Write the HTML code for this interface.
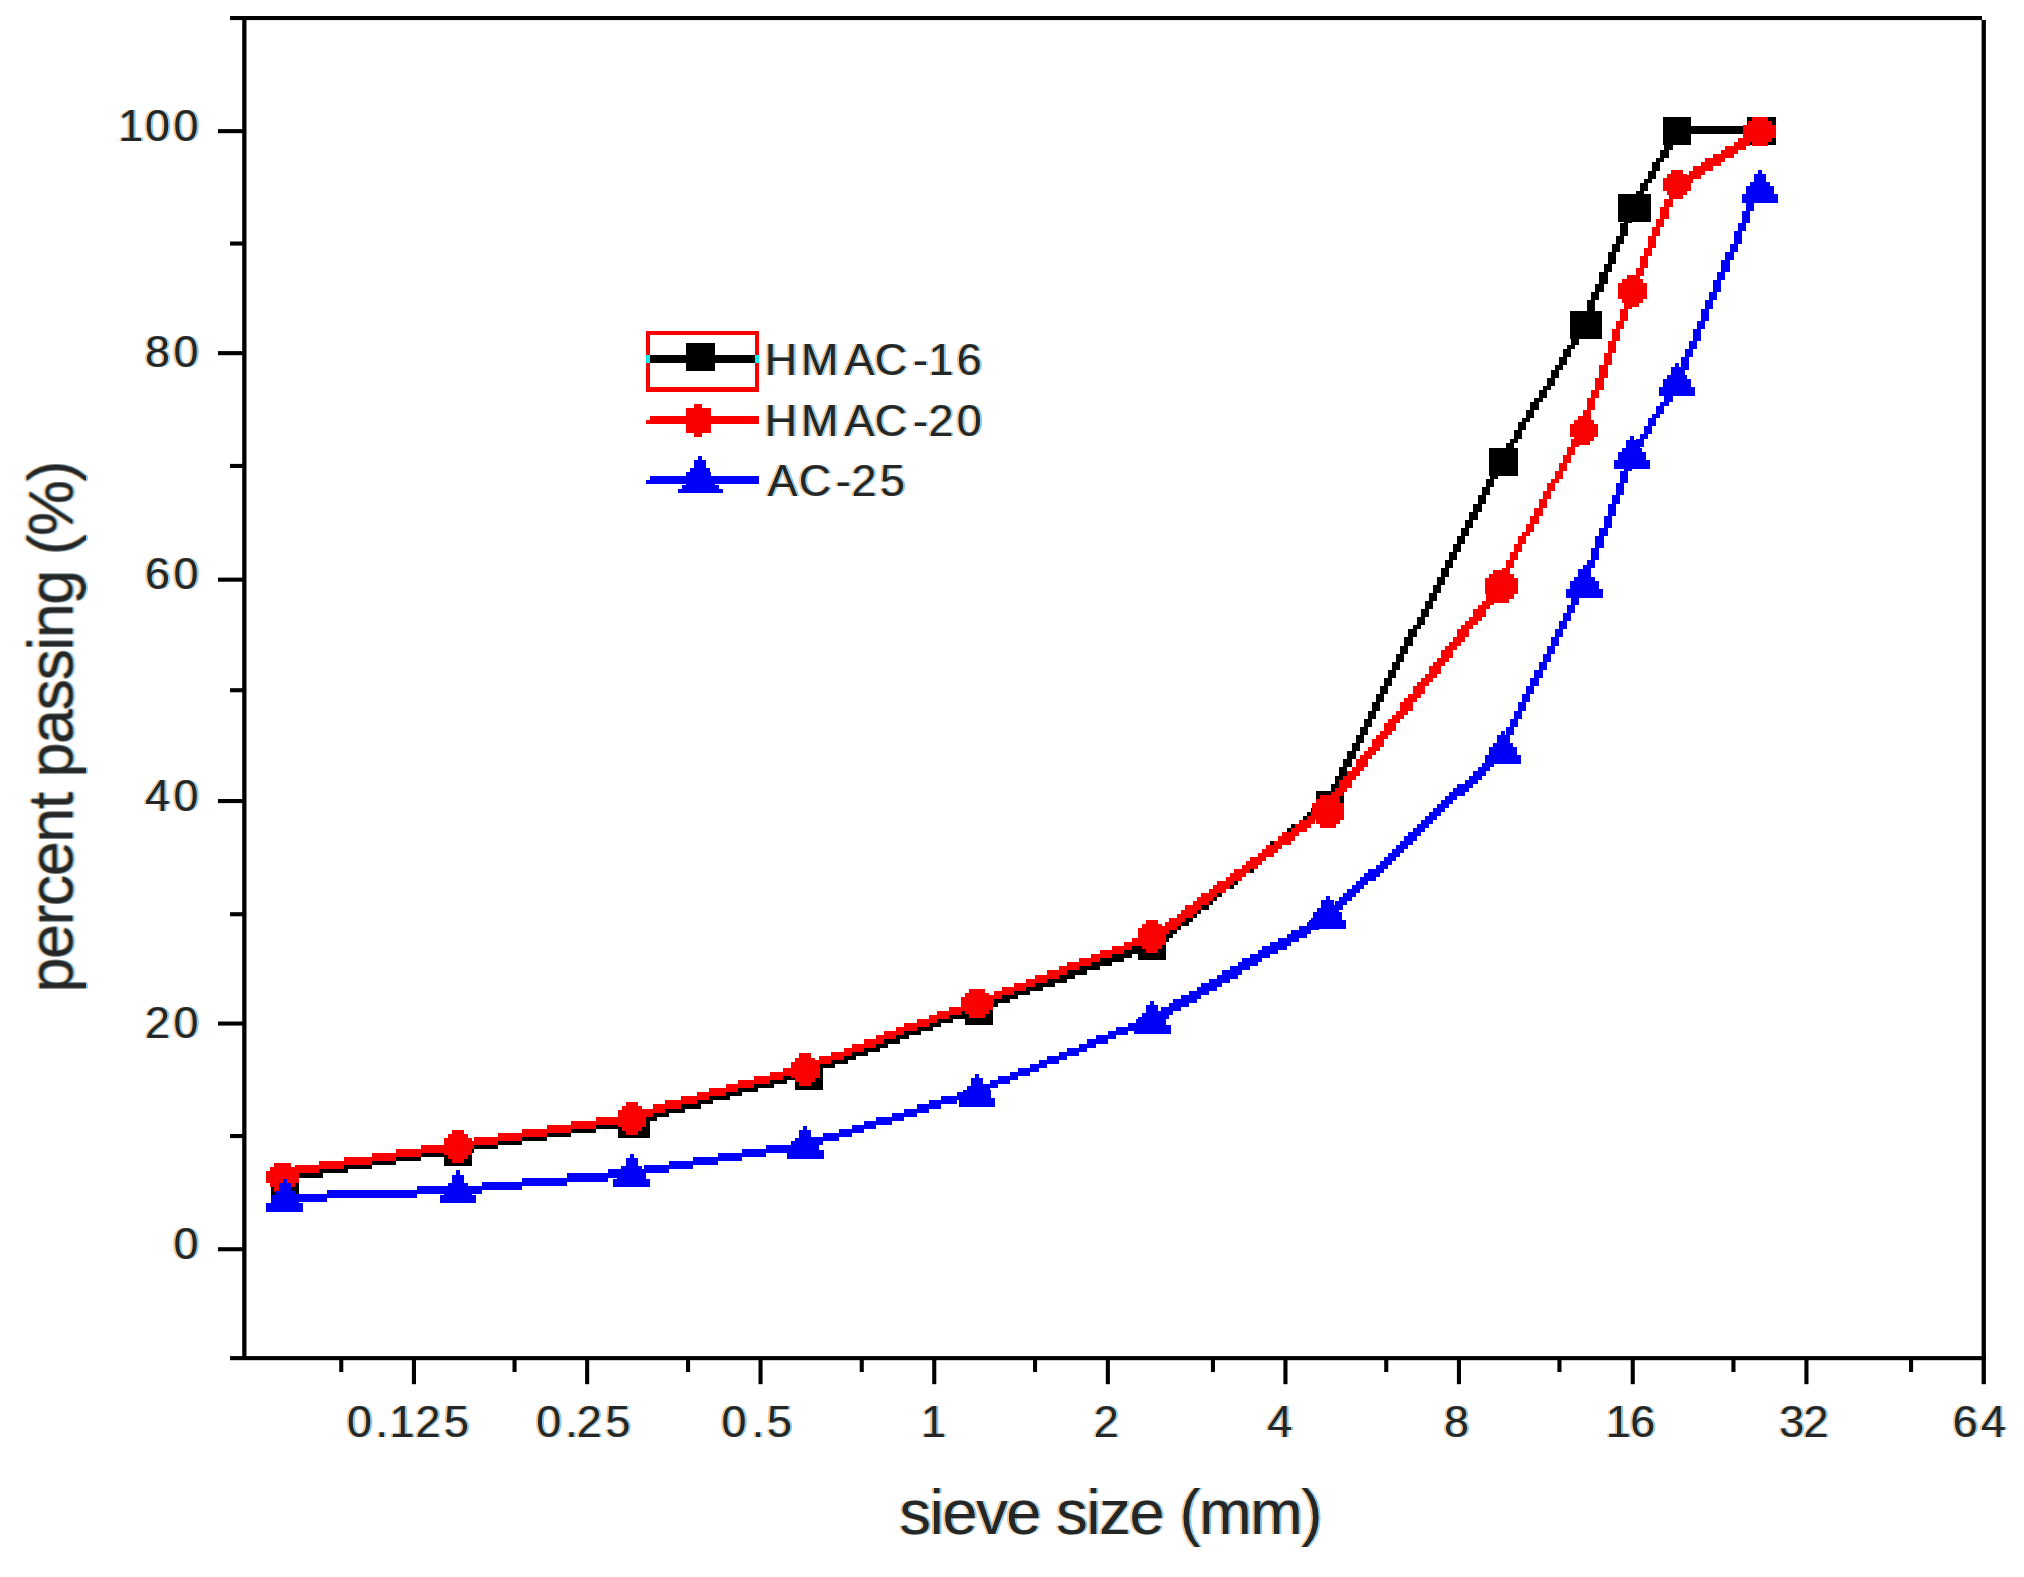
<!DOCTYPE html>
<html lang="en">
<head>
<meta charset="utf-8">
<title>Gradation curves</title>
<style>
html,body{margin:0;padding:0;background:#fff;}
body{width:2024px;height:1577px;overflow:hidden;}
svg{display:block;}
text{font-family:"Liberation Sans",Arial,Helvetica,sans-serif;fill:#262626;}
</style>
</head>
<body>
<svg width="2024" height="1577" viewBox="0 0 2024 1577">
<rect x="0" y="0" width="2024" height="1577" fill="#fff"/>
<g id="axes">
<rect x="230.0" y="16.0" width="1752.0" height="4.1" fill="#000"/>
<rect x="242.2" y="16.0" width="4.3" height="1344.0" fill="#000"/>
<rect x="230.0" y="1356.1" width="1756.0" height="4.1" fill="#000"/>
<rect x="1981.6" y="20.0" width="4.3" height="1364.2" fill="#000"/>
<rect x="218.0" y="129.1" width="25.0" height="4.1" fill="#000"/>
<rect x="218.0" y="351.1" width="25.0" height="4.1" fill="#000"/>
<rect x="218.0" y="577.6" width="25.0" height="4.1" fill="#000"/>
<rect x="218.0" y="799.0" width="25.0" height="4.1" fill="#000"/>
<rect x="218.0" y="1021.5" width="25.0" height="4.1" fill="#000"/>
<rect x="218.0" y="1247.2" width="25.0" height="4.1" fill="#000"/>
<rect x="230.0" y="241.5" width="13.0" height="4.1" fill="#000"/>
<rect x="230.0" y="463.9" width="13.0" height="4.1" fill="#000"/>
<rect x="230.0" y="688.2" width="13.0" height="4.1" fill="#000"/>
<rect x="230.0" y="912.2" width="13.0" height="4.1" fill="#000"/>
<rect x="230.0" y="1134.0" width="13.0" height="4.1" fill="#000"/>
<rect x="411.9" y="1359.0" width="4.1" height="25.2" fill="#000"/>
<rect x="585.1" y="1359.0" width="4.1" height="25.2" fill="#000"/>
<rect x="758.5" y="1359.0" width="4.1" height="25.2" fill="#000"/>
<rect x="932.2" y="1359.0" width="4.1" height="25.2" fill="#000"/>
<rect x="1105.8" y="1359.0" width="4.1" height="25.2" fill="#000"/>
<rect x="1283.4" y="1359.0" width="4.1" height="25.2" fill="#000"/>
<rect x="1456.9" y="1359.0" width="4.1" height="25.2" fill="#000"/>
<rect x="1630.7" y="1359.0" width="4.1" height="25.2" fill="#000"/>
<rect x="1804.4" y="1359.0" width="4.1" height="25.2" fill="#000"/>
<rect x="339.2" y="1359.0" width="4.1" height="13.0" fill="#000"/>
<rect x="512.5" y="1359.0" width="4.1" height="13.0" fill="#000"/>
<rect x="686.0" y="1359.0" width="4.1" height="13.0" fill="#000"/>
<rect x="859.7" y="1359.0" width="4.1" height="13.0" fill="#000"/>
<rect x="1033.0" y="1359.0" width="4.1" height="13.0" fill="#000"/>
<rect x="1210.9" y="1359.0" width="4.1" height="13.0" fill="#000"/>
<rect x="1384.2" y="1359.0" width="4.1" height="13.0" fill="#000"/>
<rect x="1557.4" y="1359.0" width="4.1" height="13.0" fill="#000"/>
<rect x="1731.4" y="1359.0" width="4.1" height="13.0" fill="#000"/>
<rect x="1909.0" y="1359.0" width="4.1" height="13.0" fill="#000"/>
</g>
<g id="s1" shape-rendering="crispEdges">
<path transform="translate(2.24,0.0) scale(4.0642,4.0605)" d="M412 31h21v1h-21zM411 32h22v1h-22zM410 33h2v1h-2zM410 34h2v1h-2zM409 35h2v1h-2zM409 36h2v1h-2zM408 37h2v1h-2zM408 38h2v1h-2zM407 39h2v1h-2zM406 40h2v1h-2zM406 41h2v1h-2zM405 42h2v1h-2zM405 43h2v1h-2zM404 44h2v1h-2zM403 45h2v1h-2zM403 46h2v1h-2zM402 47h2v1h-2zM402 48h2v1h-2zM401 49h2v1h-2zM401 50h2v1h-2zM400 51h2v1h-2zM400 52h2v1h-2zM399 53h2v1h-2zM399 54h2v1h-2zM398 55h2v1h-2zM398 56h2v1h-2zM398 57h2v1h-2zM397 58h2v1h-2zM397 59h2v1h-2zM396 60h2v1h-2zM396 61h2v1h-2zM395 62h2v1h-2zM395 63h2v1h-2zM395 64h2v1h-2zM394 65h2v1h-2zM394 66h2v1h-2zM393 67h2v1h-2zM393 68h2v1h-2zM393 69h2v1h-2zM392 70h2v1h-2zM392 71h2v1h-2zM391 72h2v1h-2zM391 73h2v1h-2zM390 74h2v1h-2zM390 75h2v1h-2zM390 76h2v1h-2zM389 77h2v1h-2zM389 78h2v1h-2zM388 79h2v1h-2zM388 80h2v1h-2zM387 81h2v1h-2zM387 82h2v1h-2zM386 83h2v1h-2zM386 84h2v1h-2zM385 85h2v1h-2zM384 86h2v1h-2zM384 87h2v1h-2zM383 88h2v1h-2zM383 89h2v1h-2zM382 90h2v1h-2zM381 91h2v1h-2zM381 92h2v1h-2zM380 93h2v1h-2zM380 94h2v1h-2zM379 95h2v1h-2zM378 96h2v1h-2zM378 97h2v1h-2zM377 98h2v1h-2zM376 99h2v1h-2zM376 100h2v1h-2zM375 101h2v1h-2zM375 102h2v1h-2zM374 103h2v1h-2zM373 104h2v1h-2zM373 105h2v1h-2zM372 106h2v1h-2zM372 107h2v1h-2zM371 108h2v1h-2zM370 109h2v1h-2zM370 110h2v1h-2zM369 111h2v1h-2zM369 112h2v1h-2zM368 113h2v1h-2zM367 114h2v1h-2zM367 115h2v1h-2zM366 116h2v1h-2zM366 117h2v1h-2zM365 118h2v1h-2zM365 119h2v1h-2zM364 120h2v1h-2zM364 121h2v1h-2zM363 122h2v1h-2zM363 123h2v1h-2zM362 124h2v1h-2zM362 125h2v1h-2zM361 126h2v1h-2zM361 127h2v1h-2zM360 128h2v1h-2zM360 129h2v1h-2zM359 130h2v1h-2zM359 131h2v1h-2zM358 132h2v1h-2zM358 133h2v1h-2zM357 134h2v1h-2zM357 135h2v1h-2zM356 136h2v1h-2zM356 137h2v1h-2zM355 138h2v1h-2zM355 139h2v1h-2zM354 140h2v1h-2zM354 141h2v1h-2zM353 142h2v1h-2zM353 143h2v1h-2zM352 144h2v1h-2zM352 145h2v1h-2zM351 146h2v1h-2zM351 147h2v1h-2zM350 148h2v1h-2zM350 149h2v1h-2zM349 150h2v1h-2zM349 151h2v1h-2zM348 152h2v1h-2zM348 153h2v1h-2zM347 154h2v1h-2zM346 155h2v1h-2zM346 156h2v1h-2zM345 157h2v1h-2zM345 158h2v1h-2zM344 159h2v1h-2zM344 160h2v1h-2zM343 161h2v1h-2zM343 162h2v1h-2zM342 163h2v1h-2zM342 164h2v1h-2zM341 165h2v1h-2zM341 166h2v1h-2zM340 167h2v1h-2zM340 168h2v1h-2zM339 169h2v1h-2zM339 170h2v1h-2zM338 171h2v1h-2zM338 172h2v1h-2zM337 173h2v1h-2zM337 174h2v1h-2zM336 175h2v1h-2zM336 176h2v1h-2zM335 177h2v1h-2zM335 178h2v1h-2zM334 179h2v1h-2zM334 180h2v1h-2zM333 181h2v1h-2zM333 182h2v1h-2zM332 183h2v1h-2zM332 184h2v1h-2zM331 185h2v1h-2zM331 186h2v1h-2zM330 187h2v1h-2zM330 188h2v1h-2zM329 189h2v1h-2zM329 190h2v1h-2zM328 191h2v1h-2zM328 192h2v1h-2zM327 193h2v1h-2zM327 194h2v1h-2zM326 195h2v1h-2zM326 196h2v1h-2zM325 197h2v1h-2zM323 198h4v1h-4zM322 199h4v1h-4zM321 200h4v1h-4zM320 201h3v1h-3zM319 202h3v1h-3zM317 203h4v1h-4zM316 204h4v1h-4zM315 205h4v1h-4zM314 206h3v1h-3zM312 207h4v1h-4zM311 208h4v1h-4zM310 209h4v1h-4zM309 210h3v1h-3zM308 211h3v1h-3zM306 212h4v1h-4zM305 213h4v1h-4zM304 214h4v1h-4zM303 215h3v1h-3zM301 216h4v1h-4zM300 217h4v1h-4zM299 218h4v1h-4zM298 219h3v1h-3zM297 220h3v1h-3zM295 221h4v1h-4zM294 222h4v1h-4zM293 223h4v1h-4zM292 224h3v1h-3zM290 225h4v1h-4zM289 226h4v1h-4zM288 227h4v1h-4zM287 228h3v1h-3zM286 229h3v1h-3zM284 230h4v1h-4zM283 231h4v1h-4zM281 232h5v1h-5zM278 233h6v1h-6zM276 234h5v1h-5zM282 234h1v1h-1zM273 235h5v1h-5zM270 236h6v1h-6zM267 237h6v1h-6zM264 238h6v1h-6zM262 239h5v1h-5zM259 240h5v1h-5zM256 241h6v1h-6zM253 242h6v1h-6zM250 243h6v1h-6zM248 244h5v1h-5zM245 245h5v1h-5zM242 246h6v1h-6zM239 247h6v1h-6zM237 248h5v1h-5zM234 249h5v1h-5zM231 250h6v1h-6zM229 251h5v1h-5zM226 252h5v1h-5zM223 253h6v1h-6zM221 254h5v1h-5zM218 255h5v1h-5zM216 256h5v1h-5zM213 257h5v1h-5zM210 258h6v1h-6zM208 259h5v1h-5zM205 260h5v1h-5zM202 261h6v1h-6zM200 262h5v1h-5zM197 263h5v1h-5zM193 264h7v1h-7zM190 265h7v1h-7zM186 266h7v1h-7zM182 267h8v1h-8zM179 268h7v1h-7zM175 269h7v1h-7zM172 270h7v1h-7zM168 271h7v1h-7zM164 272h8v1h-8zM161 273h7v1h-7zM157 274h7v1h-7zM152 275h9v1h-9zM146 276h11v1h-11zM140 277h12v1h-12zM134 278h12v1h-12zM128 279h12v1h-12zM122 280h12v1h-12zM116 281h12v1h-12zM109 282h13v1h-13zM103 283h13v1h-13zM97 284h12v1h-12zM91 285h12v1h-12zM85 286h12v1h-12zM79 287h12v1h-12zM73 288h12v1h-12zM69 289h10v1h-10zM69 290h4v1h-4z" fill="#000" shape-rendering="crispEdges"/>
<rect x="270.6" y="1166.5" width="28.2" height="28.5" fill="#000"/>
<rect x="444.0" y="1138.0" width="28.2" height="28.3" fill="#000"/>
<rect x="617.6" y="1109.6" width="32.4" height="28.3" fill="#000"/>
<rect x="795.2" y="1061.3" width="28.2" height="28.4" fill="#000"/>
<rect x="964.7" y="996.5" width="28.3" height="28.4" fill="#000"/>
<rect x="1138.1" y="932.0" width="28.3" height="28.4" fill="#000"/>
<rect x="1315.9" y="791.4" width="28.0" height="28.2" fill="#000"/>
<rect x="1489.1" y="447.9" width="28.4" height="28.1" fill="#000"/>
<rect x="1570.0" y="310.8" width="32.2" height="28.2" fill="#000"/>
<rect x="1618.3" y="193.8" width="32.2" height="28.0" fill="#000"/>
<rect x="1662.8" y="117.1" width="28.1" height="28.0" fill="#000"/>
<rect x="1747.4" y="117.1" width="28.4" height="28.0" fill="#000"/>
</g>
<g id="s2" shape-rendering="crispEdges">
<path transform="translate(2.24,0.0) scale(4.0642,4.0605)" d="M432 31h1v1h-1zM430 32h3v1h-3zM429 33h4v1h-4zM427 34h5v1h-5zM426 35h4v1h-4zM424 36h5v1h-5zM423 37h4v1h-4zM421 38h5v1h-5zM419 39h5v1h-5zM418 40h5v1h-5zM416 41h5v1h-5zM415 42h4v1h-4zM413 43h5v1h-5zM412 44h4v1h-4zM411 45h4v1h-4zM411 46h2v1h-2zM410 47h2v1h-2zM410 48h2v1h-2zM409 49h2v1h-2zM409 50h2v1h-2zM408 51h2v1h-2zM408 52h2v1h-2zM408 53h2v1h-2zM407 54h2v1h-2zM407 55h2v1h-2zM406 56h2v1h-2zM406 57h2v1h-2zM405 58h2v1h-2zM405 59h2v1h-2zM405 60h2v1h-2zM404 61h2v1h-2zM404 62h2v1h-2zM403 63h2v1h-2zM403 64h2v1h-2zM403 65h2v1h-2zM402 66h2v1h-2zM402 67h2v1h-2zM401 68h2v1h-2zM401 69h2v1h-2zM400 70h2v1h-2zM400 71h2v1h-2zM400 72h2v1h-2zM399 73h2v1h-2zM399 74h2v1h-2zM399 75h2v1h-2zM398 76h2v1h-2zM398 77h2v1h-2zM398 78h2v1h-2zM397 79h2v1h-2zM397 80h2v1h-2zM396 81h2v1h-2zM396 82h2v1h-2zM396 83h2v1h-2zM395 84h2v1h-2zM395 85h2v1h-2zM395 86h2v1h-2zM394 87h2v1h-2zM394 88h2v1h-2zM394 89h2v1h-2zM393 90h2v1h-2zM393 91h2v1h-2zM393 92h2v1h-2zM392 93h2v1h-2zM392 94h2v1h-2zM392 95h2v1h-2zM391 96h2v1h-2zM391 97h2v1h-2zM390 98h2v1h-2zM390 99h2v1h-2zM390 100h2v1h-2zM389 101h2v1h-2zM389 102h2v1h-2zM389 103h2v1h-2zM388 104h2v1h-2zM388 105h2v1h-2zM387 106h2v1h-2zM387 107h2v1h-2zM386 108h2v1h-2zM386 109h2v1h-2zM385 110h2v1h-2zM385 111h2v1h-2zM384 112h2v1h-2zM384 113h2v1h-2zM383 114h2v1h-2zM383 115h2v1h-2zM382 116h2v1h-2zM382 117h2v1h-2zM381 118h2v1h-2zM380 119h2v1h-2zM380 120h2v1h-2zM379 121h2v1h-2zM379 122h2v1h-2zM378 123h2v1h-2zM378 124h2v1h-2zM377 125h2v1h-2zM377 126h2v1h-2zM376 127h2v1h-2zM376 128h2v1h-2zM375 129h2v1h-2zM375 130h2v1h-2zM374 131h2v1h-2zM373 132h2v1h-2zM373 133h2v1h-2zM372 134h2v1h-2zM372 135h2v1h-2zM371 136h2v1h-2zM371 137h2v1h-2zM370 138h2v1h-2zM370 139h2v1h-2zM369 140h2v1h-2zM369 141h2v1h-2zM368 142h2v1h-2zM368 143h2v1h-2zM367 144h3v1h-3zM366 145h3v1h-3zM365 146h3v1h-3zM365 147h3v1h-3zM364 148h3v1h-3zM363 149h3v1h-3zM362 150h3v1h-3zM362 151h3v1h-3zM361 152h3v1h-3zM360 153h3v1h-3zM359 154h3v1h-3zM358 155h3v1h-3zM358 156h3v1h-3zM357 157h3v1h-3zM356 158h3v1h-3zM355 159h3v1h-3zM354 160h3v1h-3zM354 161h3v1h-3zM353 162h3v1h-3zM352 163h3v1h-3zM351 164h3v1h-3zM351 165h3v1h-3zM350 166h3v1h-3zM349 167h3v1h-3zM348 168h3v1h-3zM347 169h3v1h-3zM347 170h3v1h-3zM346 171h3v1h-3zM345 172h3v1h-3zM344 173h3v1h-3zM344 174h3v1h-3zM343 175h3v1h-3zM342 176h3v1h-3zM341 177h3v1h-3zM340 178h3v1h-3zM340 179h3v1h-3zM339 180h3v1h-3zM338 181h3v1h-3zM337 182h3v1h-3zM337 183h3v1h-3zM336 184h3v1h-3zM335 185h3v1h-3zM334 186h3v1h-3zM333 187h3v1h-3zM333 188h3v1h-3zM332 189h3v1h-3zM331 190h3v1h-3zM330 191h3v1h-3zM329 192h3v1h-3zM329 193h3v1h-3zM328 194h3v1h-3zM327 195h3v1h-3zM326 196h3v1h-3zM326 197h3v1h-3zM325 198h3v1h-3zM323 199h4v1h-4zM322 200h4v1h-4zM321 201h4v1h-4zM319 202h4v1h-4zM318 203h4v1h-4zM317 204h4v1h-4zM315 205h4v1h-4zM314 206h4v1h-4zM313 207h4v1h-4zM311 208h4v1h-4zM310 209h4v1h-4zM309 210h4v1h-4zM307 211h4v1h-4zM306 212h4v1h-4zM305 213h4v1h-4zM303 214h4v1h-4zM302 215h4v1h-4zM301 216h4v1h-4zM299 217h4v1h-4zM298 218h4v1h-4zM297 219h4v1h-4zM295 220h4v1h-4zM294 221h4v1h-4zM293 222h4v1h-4zM291 223h4v1h-4zM290 224h4v1h-4zM289 225h4v1h-4zM287 226h4v1h-4zM286 227h4v1h-4zM285 228h4v1h-4zM283 229h4v1h-4zM281 230h5v1h-5zM278 231h7v1h-7zM276 232h5v1h-5zM282 232h1v1h-1zM273 233h5v1h-5zM270 234h6v1h-6zM268 235h5v1h-5zM265 236h5v1h-5zM262 237h6v1h-6zM260 238h5v1h-5zM257 239h5v1h-5zM254 240h6v1h-6zM252 241h5v1h-5zM249 242h5v1h-5zM246 243h6v1h-6zM244 244h5v1h-5zM241 245h5v1h-5zM238 246h6v1h-6zM236 247h5v1h-5zM233 248h5v1h-5zM230 249h6v1h-6zM228 250h5v1h-5zM225 251h5v1h-5zM222 252h6v1h-6zM220 253h5v1h-5zM217 254h5v1h-5zM215 255h5v1h-5zM212 256h5v1h-5zM209 257h6v1h-6zM207 258h5v1h-5zM204 259h5v1h-5zM201 260h6v1h-6zM199 261h5v1h-5zM196 262h5v1h-5zM192 263h7v1h-7zM189 264h7v1h-7zM185 265h7v1h-7zM181 266h8v1h-8zM178 267h7v1h-7zM174 268h7v1h-7zM171 269h7v1h-7zM167 270h7v1h-7zM163 271h8v1h-8zM160 272h7v1h-7zM156 273h7v1h-7zM152 274h8v1h-8zM146 275h10v1h-10zM140 276h12v1h-12zM134 277h12v1h-12zM128 278h12v1h-12zM122 279h12v1h-12zM116 280h12v1h-12zM109 281h13v1h-13zM103 282h13v1h-13zM97 283h12v1h-12zM91 284h12v1h-12zM84 285h13v1h-13zM78 286h13v1h-13zM72 287h12v1h-12zM68 288h10v1h-10zM68 289h4v1h-4z" fill="#fa0000" shape-rendering="crispEdges"/>
<rect x="274.4" y="1162.6" width="16.3" height="4.5" fill="#fa0000"/>
<rect x="270.4" y="1166.7" width="24.4" height="4.5" fill="#fa0000"/>
<rect x="266.3" y="1170.7" width="32.5" height="4.5" fill="#fa0000"/>
<rect x="266.3" y="1174.8" width="32.5" height="4.5" fill="#fa0000"/>
<rect x="266.3" y="1178.8" width="32.5" height="4.5" fill="#fa0000"/>
<rect x="270.4" y="1182.9" width="24.4" height="4.5" fill="#fa0000"/>
<rect x="274.4" y="1187.0" width="16.3" height="4.5" fill="#fa0000"/>
<rect x="452.0" y="1130.2" width="12.2" height="4.5" fill="#fa0000"/>
<rect x="447.9" y="1134.3" width="20.3" height="4.5" fill="#fa0000"/>
<rect x="443.9" y="1138.3" width="28.4" height="4.5" fill="#fa0000"/>
<rect x="443.9" y="1142.4" width="28.4" height="4.5" fill="#fa0000"/>
<rect x="443.9" y="1146.4" width="28.4" height="4.5" fill="#fa0000"/>
<rect x="443.9" y="1150.5" width="28.4" height="4.5" fill="#fa0000"/>
<rect x="447.9" y="1154.6" width="20.3" height="4.5" fill="#fa0000"/>
<rect x="452.0" y="1158.6" width="12.2" height="4.5" fill="#fa0000"/>
<rect x="625.8" y="1102.2" width="12.2" height="4.5" fill="#fa0000"/>
<rect x="621.7" y="1106.3" width="20.3" height="4.5" fill="#fa0000"/>
<rect x="617.7" y="1110.3" width="28.4" height="4.5" fill="#fa0000"/>
<rect x="617.7" y="1114.4" width="28.4" height="4.5" fill="#fa0000"/>
<rect x="617.7" y="1118.4" width="28.4" height="4.5" fill="#fa0000"/>
<rect x="617.7" y="1122.5" width="28.4" height="4.5" fill="#fa0000"/>
<rect x="621.7" y="1126.6" width="20.3" height="4.5" fill="#fa0000"/>
<rect x="625.8" y="1130.6" width="12.2" height="4.5" fill="#fa0000"/>
<rect x="799.2" y="1053.4" width="12.2" height="4.5" fill="#fa0000"/>
<rect x="795.1" y="1057.5" width="20.3" height="4.5" fill="#fa0000"/>
<rect x="791.1" y="1061.5" width="28.4" height="4.5" fill="#fa0000"/>
<rect x="791.1" y="1065.6" width="28.4" height="4.5" fill="#fa0000"/>
<rect x="791.1" y="1069.6" width="28.4" height="4.5" fill="#fa0000"/>
<rect x="791.1" y="1073.7" width="28.4" height="4.5" fill="#fa0000"/>
<rect x="795.1" y="1077.8" width="20.3" height="4.5" fill="#fa0000"/>
<rect x="799.2" y="1081.8" width="12.2" height="4.5" fill="#fa0000"/>
<rect x="968.7" y="989.0" width="16.3" height="4.5" fill="#fa0000"/>
<rect x="964.7" y="993.1" width="24.4" height="4.5" fill="#fa0000"/>
<rect x="960.6" y="997.1" width="32.5" height="4.5" fill="#fa0000"/>
<rect x="960.6" y="1001.2" width="32.5" height="4.5" fill="#fa0000"/>
<rect x="960.6" y="1005.2" width="32.5" height="4.5" fill="#fa0000"/>
<rect x="964.7" y="1009.3" width="24.4" height="4.5" fill="#fa0000"/>
<rect x="968.7" y="1013.4" width="16.3" height="4.5" fill="#fa0000"/>
<rect x="1146.1" y="920.2" width="12.2" height="4.5" fill="#fa0000"/>
<rect x="1142.0" y="924.3" width="20.3" height="4.5" fill="#fa0000"/>
<rect x="1138.0" y="928.3" width="28.4" height="4.5" fill="#fa0000"/>
<rect x="1138.0" y="932.4" width="28.4" height="4.5" fill="#fa0000"/>
<rect x="1138.0" y="936.4" width="28.4" height="4.5" fill="#fa0000"/>
<rect x="1138.0" y="940.5" width="28.4" height="4.5" fill="#fa0000"/>
<rect x="1142.0" y="944.6" width="20.3" height="4.5" fill="#fa0000"/>
<rect x="1146.1" y="948.6" width="12.2" height="4.5" fill="#fa0000"/>
<rect x="1319.7" y="795.0" width="16.3" height="4.5" fill="#fa0000"/>
<rect x="1315.7" y="799.1" width="24.4" height="4.5" fill="#fa0000"/>
<rect x="1311.6" y="803.1" width="32.5" height="4.5" fill="#fa0000"/>
<rect x="1311.6" y="807.2" width="32.5" height="4.5" fill="#fa0000"/>
<rect x="1311.6" y="811.2" width="32.5" height="4.5" fill="#fa0000"/>
<rect x="1311.6" y="815.3" width="32.5" height="4.5" fill="#fa0000"/>
<rect x="1315.7" y="819.4" width="24.4" height="4.5" fill="#fa0000"/>
<rect x="1319.7" y="823.4" width="16.3" height="4.5" fill="#fa0000"/>
<rect x="1493.1" y="569.6" width="16.3" height="4.5" fill="#fa0000"/>
<rect x="1489.1" y="573.7" width="24.4" height="4.5" fill="#fa0000"/>
<rect x="1485.0" y="577.7" width="32.5" height="4.5" fill="#fa0000"/>
<rect x="1485.0" y="581.8" width="32.5" height="4.5" fill="#fa0000"/>
<rect x="1485.0" y="585.8" width="32.5" height="4.5" fill="#fa0000"/>
<rect x="1485.0" y="589.9" width="32.5" height="4.5" fill="#fa0000"/>
<rect x="1489.1" y="594.0" width="24.4" height="4.5" fill="#fa0000"/>
<rect x="1493.1" y="598.0" width="16.3" height="4.5" fill="#fa0000"/>
<rect x="1578.0" y="415.9" width="12.2" height="4.5" fill="#fa0000"/>
<rect x="1573.9" y="420.0" width="20.3" height="4.5" fill="#fa0000"/>
<rect x="1569.9" y="424.0" width="28.4" height="4.5" fill="#fa0000"/>
<rect x="1569.9" y="428.1" width="28.4" height="4.5" fill="#fa0000"/>
<rect x="1569.9" y="432.1" width="28.4" height="4.5" fill="#fa0000"/>
<rect x="1573.9" y="436.2" width="20.3" height="4.5" fill="#fa0000"/>
<rect x="1578.0" y="440.3" width="12.2" height="4.5" fill="#fa0000"/>
<rect x="1626.5" y="274.5" width="12.2" height="4.5" fill="#fa0000"/>
<rect x="1622.4" y="278.6" width="20.3" height="4.5" fill="#fa0000"/>
<rect x="1618.3" y="282.6" width="28.4" height="4.5" fill="#fa0000"/>
<rect x="1618.3" y="286.7" width="28.4" height="4.5" fill="#fa0000"/>
<rect x="1618.3" y="290.7" width="28.4" height="4.5" fill="#fa0000"/>
<rect x="1618.3" y="294.8" width="28.4" height="4.5" fill="#fa0000"/>
<rect x="1622.4" y="298.9" width="20.3" height="4.5" fill="#fa0000"/>
<rect x="1626.5" y="302.9" width="12.2" height="4.5" fill="#fa0000"/>
<rect x="1670.8" y="169.9" width="12.2" height="4.5" fill="#fa0000"/>
<rect x="1666.7" y="174.0" width="20.3" height="4.5" fill="#fa0000"/>
<rect x="1662.6" y="178.0" width="28.4" height="4.5" fill="#fa0000"/>
<rect x="1662.6" y="182.1" width="28.4" height="4.5" fill="#fa0000"/>
<rect x="1662.6" y="186.1" width="28.4" height="4.5" fill="#fa0000"/>
<rect x="1666.7" y="190.2" width="20.3" height="4.5" fill="#fa0000"/>
<rect x="1670.8" y="194.3" width="12.2" height="4.5" fill="#fa0000"/>
<rect x="1751.6" y="117.1" width="16.3" height="4.5" fill="#fa0000"/>
<rect x="1747.5" y="121.2" width="24.4" height="4.5" fill="#fa0000"/>
<rect x="1743.4" y="125.2" width="32.5" height="4.5" fill="#fa0000"/>
<rect x="1743.4" y="129.3" width="32.5" height="4.5" fill="#fa0000"/>
<rect x="1743.4" y="133.3" width="32.5" height="4.5" fill="#fa0000"/>
<rect x="1747.5" y="137.4" width="24.4" height="4.5" fill="#fa0000"/>
<rect x="1751.6" y="141.5" width="16.3" height="4.5" fill="#fa0000"/>
</g>
<g id="s3" shape-rendering="crispEdges">
<path transform="translate(2.24,0.0) scale(4.0642,4.0605)" d="M431 46h2v1h-2zM431 47h2v1h-2zM430 48h2v1h-2zM430 49h2v1h-2zM429 50h2v1h-2zM429 51h2v1h-2zM428 52h2v1h-2zM428 53h2v1h-2zM428 54h2v1h-2zM427 55h2v1h-2zM427 56h2v1h-2zM426 57h2v1h-2zM426 58h2v1h-2zM426 59h2v1h-2zM425 60h2v1h-2zM425 61h2v1h-2zM424 62h2v1h-2zM424 63h2v1h-2zM423 64h2v1h-2zM423 65h2v1h-2zM423 66h2v1h-2zM422 67h2v1h-2zM422 68h2v1h-2zM421 69h2v1h-2zM421 70h2v1h-2zM421 71h2v1h-2zM420 72h2v1h-2zM420 73h2v1h-2zM419 74h2v1h-2zM419 75h2v1h-2zM418 76h2v1h-2zM418 77h2v1h-2zM418 78h2v1h-2zM417 79h2v1h-2zM417 80h2v1h-2zM416 81h2v1h-2zM416 82h2v1h-2zM416 83h2v1h-2zM415 84h2v1h-2zM415 85h2v1h-2zM414 86h2v1h-2zM414 87h2v1h-2zM413 88h2v1h-2zM413 89h2v1h-2zM413 90h2v1h-2zM412 91h2v1h-2zM412 92h2v1h-2zM411 93h2v1h-2zM411 94h2v1h-2zM410 95h2v1h-2zM410 96h2v1h-2zM409 97h2v1h-2zM409 98h2v1h-2zM408 99h2v1h-2zM407 100h2v1h-2zM407 101h2v1h-2zM406 102h2v1h-2zM405 103h2v1h-2zM405 104h2v1h-2zM404 105h2v1h-2zM404 106h2v1h-2zM403 107h2v1h-2zM402 108h2v1h-2zM402 109h2v1h-2zM401 110h2v1h-2zM401 111h2v1h-2zM400 112h2v1h-2zM400 113h2v1h-2zM399 114h2v1h-2zM399 115h2v1h-2zM398 116h2v1h-2zM398 117h2v1h-2zM398 118h2v1h-2zM397 119h2v1h-2zM397 120h2v1h-2zM397 121h2v1h-2zM396 122h2v1h-2zM396 123h2v1h-2zM395 124h2v1h-2zM395 125h2v1h-2zM395 126h2v1h-2zM394 127h2v1h-2zM394 128h2v1h-2zM394 129h2v1h-2zM393 130h2v1h-2zM393 131h2v1h-2zM392 132h2v1h-2zM392 133h2v1h-2zM392 134h2v1h-2zM391 135h2v1h-2zM391 136h2v1h-2zM391 137h2v1h-2zM390 138h2v1h-2zM390 139h2v1h-2zM389 140h2v1h-2zM389 141h2v1h-2zM389 142h2v1h-2zM388 143h2v1h-2zM388 144h2v1h-2zM387 145h2v1h-2zM387 146h2v1h-2zM386 147h2v1h-2zM386 148h2v1h-2zM385 149h2v1h-2zM385 150h2v1h-2zM384 151h2v1h-2zM384 152h2v1h-2zM383 153h2v1h-2zM383 154h2v1h-2zM382 155h2v1h-2zM382 156h2v1h-2zM381 157h2v1h-2zM381 158h2v1h-2zM380 159h2v1h-2zM380 160h2v1h-2zM379 161h2v1h-2zM379 162h2v1h-2zM378 163h2v1h-2zM378 164h2v1h-2zM377 165h2v1h-2zM377 166h2v1h-2zM376 167h2v1h-2zM376 168h2v1h-2zM375 169h2v1h-2zM375 170h2v1h-2zM374 171h2v1h-2zM374 172h2v1h-2zM373 173h2v1h-2zM373 174h2v1h-2zM372 175h2v1h-2zM372 176h2v1h-2zM371 177h2v1h-2zM371 178h2v1h-2zM370 179h2v1h-2zM370 180h2v1h-2zM369 181h2v1h-2zM369 182h2v1h-2zM368 183h2v1h-2zM368 184h2v1h-2zM367 185h3v1h-3zM366 186h3v1h-3zM365 187h3v1h-3zM364 188h3v1h-3zM363 189h3v1h-3zM362 190h3v1h-3zM361 191h3v1h-3zM360 192h3v1h-3zM358 193h4v1h-4zM357 194h4v1h-4zM356 195h4v1h-4zM355 196h3v1h-3zM354 197h3v1h-3zM353 198h3v1h-3zM352 199h3v1h-3zM351 200h3v1h-3zM350 201h3v1h-3zM349 202h3v1h-3zM348 203h3v1h-3zM347 204h3v1h-3zM346 205h3v1h-3zM345 206h3v1h-3zM344 207h3v1h-3zM343 208h3v1h-3zM342 209h3v1h-3zM341 210h3v1h-3zM340 211h3v1h-3zM339 212h3v1h-3zM338 213h3v1h-3zM336 214h4v1h-4zM335 215h4v1h-4zM334 216h4v1h-4zM333 217h3v1h-3zM332 218h3v1h-3zM331 219h3v1h-3zM330 220h3v1h-3zM329 221h3v1h-3zM328 222h3v1h-3zM327 223h3v1h-3zM326 224h3v1h-3zM324 225h4v1h-4zM322 226h5v1h-5zM321 227h5v1h-5zM319 228h5v1h-5zM317 229h5v1h-5zM316 230h5v1h-5zM314 231h5v1h-5zM312 232h5v1h-5zM310 233h6v1h-6zM309 234h5v1h-5zM307 235h5v1h-5zM305 236h5v1h-5zM304 237h5v1h-5zM302 238h5v1h-5zM300 239h5v1h-5zM299 240h5v1h-5zM297 241h5v1h-5zM295 242h5v1h-5zM294 243h5v1h-5zM292 244h5v1h-5zM290 245h5v1h-5zM288 246h6v1h-6zM287 247h5v1h-5zM285 248h5v1h-5zM283 249h5v1h-5zM281 250h6v1h-6zM279 251h6v1h-6zM277 252h4v1h-4zM282 252h1v1h-1zM274 253h5v1h-5zM272 254h5v1h-5zM269 255h5v1h-5zM267 256h5v1h-5zM265 257h4v1h-4zM262 258h5v1h-5zM260 259h5v1h-5zM257 260h5v1h-5zM255 261h5v1h-5zM253 262h4v1h-4zM250 263h5v1h-5zM248 264h5v1h-5zM245 265h5v1h-5zM243 266h5v1h-5zM241 267h4v1h-4zM238 268h5v1h-5zM235 269h6v1h-6zM231 270h7v1h-7zM228 271h7v1h-7zM225 272h6v1h-6zM222 273h6v1h-6zM219 274h6v1h-6zM215 275h7v1h-7zM212 276h7v1h-7zM209 277h6v1h-6zM206 278h6v1h-6zM202 279h7v1h-7zM199 280h7v1h-7zM194 281h8v1h-8zM188 282h11v1h-11zM182 283h12v1h-12zM176 284h12v1h-12zM170 285h12v1h-12zM164 286h12v1h-12zM158 287h12v1h-12zM149 288h15v1h-15zM139 289h19v1h-19zM128 290h21v1h-21zM118 291h21v1h-21zM102 292h26v1h-26zM80 293h38v1h-38zM69 294h33v1h-33zM69 295h11v1h-11z" fill="#0000fa" shape-rendering="crispEdges"/>
<rect x="282.7" y="1178.6" width="4.1" height="4.5" fill="#0000fa"/>
<rect x="278.6" y="1182.7" width="12.2" height="4.5" fill="#0000fa"/>
<rect x="278.6" y="1186.7" width="12.2" height="4.5" fill="#0000fa"/>
<rect x="274.5" y="1190.8" width="20.3" height="4.5" fill="#0000fa"/>
<rect x="270.5" y="1194.8" width="28.4" height="4.5" fill="#0000fa"/>
<rect x="270.5" y="1198.9" width="28.4" height="4.5" fill="#0000fa"/>
<rect x="266.4" y="1203.0" width="36.6" height="4.5" fill="#0000fa"/>
<rect x="266.4" y="1207.0" width="36.6" height="4.5" fill="#0000fa"/>
<rect x="456.0" y="1170.4" width="4.1" height="4.5" fill="#0000fa"/>
<rect x="451.9" y="1174.5" width="12.2" height="4.5" fill="#0000fa"/>
<rect x="451.9" y="1178.5" width="12.2" height="4.5" fill="#0000fa"/>
<rect x="447.8" y="1182.6" width="20.3" height="4.5" fill="#0000fa"/>
<rect x="443.8" y="1186.6" width="28.4" height="4.5" fill="#0000fa"/>
<rect x="443.8" y="1190.7" width="28.4" height="4.5" fill="#0000fa"/>
<rect x="439.7" y="1194.8" width="36.6" height="4.5" fill="#0000fa"/>
<rect x="439.7" y="1198.8" width="36.6" height="4.5" fill="#0000fa"/>
<rect x="629.6" y="1154.2" width="4.1" height="4.5" fill="#0000fa"/>
<rect x="625.5" y="1158.3" width="12.2" height="4.5" fill="#0000fa"/>
<rect x="625.5" y="1162.3" width="12.2" height="4.5" fill="#0000fa"/>
<rect x="621.4" y="1166.4" width="20.3" height="4.5" fill="#0000fa"/>
<rect x="617.4" y="1170.4" width="28.4" height="4.5" fill="#0000fa"/>
<rect x="617.4" y="1174.5" width="28.4" height="4.5" fill="#0000fa"/>
<rect x="613.3" y="1178.6" width="36.6" height="4.5" fill="#0000fa"/>
<rect x="613.3" y="1182.6" width="36.6" height="4.5" fill="#0000fa"/>
<rect x="803.2" y="1126.0" width="4.1" height="4.5" fill="#0000fa"/>
<rect x="799.1" y="1130.1" width="12.2" height="4.5" fill="#0000fa"/>
<rect x="799.1" y="1134.1" width="12.2" height="4.5" fill="#0000fa"/>
<rect x="795.0" y="1138.2" width="20.3" height="4.5" fill="#0000fa"/>
<rect x="791.0" y="1142.2" width="28.4" height="4.5" fill="#0000fa"/>
<rect x="791.0" y="1146.3" width="28.4" height="4.5" fill="#0000fa"/>
<rect x="786.9" y="1150.4" width="36.6" height="4.5" fill="#0000fa"/>
<rect x="786.9" y="1154.4" width="36.6" height="4.5" fill="#0000fa"/>
<rect x="974.8" y="1073.6" width="4.1" height="4.5" fill="#0000fa"/>
<rect x="970.7" y="1077.7" width="12.2" height="4.5" fill="#0000fa"/>
<rect x="970.7" y="1081.7" width="12.2" height="4.5" fill="#0000fa"/>
<rect x="966.6" y="1085.8" width="20.3" height="4.5" fill="#0000fa"/>
<rect x="962.6" y="1089.8" width="28.4" height="4.5" fill="#0000fa"/>
<rect x="962.6" y="1093.9" width="28.4" height="4.5" fill="#0000fa"/>
<rect x="958.5" y="1098.0" width="36.6" height="4.5" fill="#0000fa"/>
<rect x="958.5" y="1102.0" width="36.6" height="4.5" fill="#0000fa"/>
<rect x="1150.2" y="1001.0" width="4.1" height="4.5" fill="#0000fa"/>
<rect x="1146.1" y="1005.1" width="12.2" height="4.5" fill="#0000fa"/>
<rect x="1146.1" y="1009.1" width="12.2" height="4.5" fill="#0000fa"/>
<rect x="1142.0" y="1013.2" width="20.3" height="4.5" fill="#0000fa"/>
<rect x="1138.0" y="1017.2" width="28.4" height="4.5" fill="#0000fa"/>
<rect x="1138.0" y="1021.3" width="28.4" height="4.5" fill="#0000fa"/>
<rect x="1133.9" y="1025.4" width="36.6" height="4.5" fill="#0000fa"/>
<rect x="1133.9" y="1029.4" width="36.6" height="4.5" fill="#0000fa"/>
<rect x="1325.5" y="896.0" width="4.1" height="4.5" fill="#0000fa"/>
<rect x="1321.4" y="900.1" width="12.2" height="4.5" fill="#0000fa"/>
<rect x="1321.4" y="904.1" width="12.2" height="4.5" fill="#0000fa"/>
<rect x="1317.3" y="908.2" width="20.3" height="4.5" fill="#0000fa"/>
<rect x="1313.3" y="912.2" width="28.4" height="4.5" fill="#0000fa"/>
<rect x="1313.3" y="916.3" width="28.4" height="4.5" fill="#0000fa"/>
<rect x="1309.2" y="920.4" width="36.6" height="4.5" fill="#0000fa"/>
<rect x="1309.2" y="924.4" width="36.6" height="4.5" fill="#0000fa"/>
<rect x="1501.0" y="731.0" width="4.1" height="4.5" fill="#0000fa"/>
<rect x="1496.9" y="735.1" width="12.2" height="4.5" fill="#0000fa"/>
<rect x="1496.9" y="739.1" width="12.2" height="4.5" fill="#0000fa"/>
<rect x="1492.8" y="743.2" width="20.3" height="4.5" fill="#0000fa"/>
<rect x="1488.8" y="747.2" width="28.4" height="4.5" fill="#0000fa"/>
<rect x="1488.8" y="751.3" width="28.4" height="4.5" fill="#0000fa"/>
<rect x="1484.7" y="755.4" width="36.6" height="4.5" fill="#0000fa"/>
<rect x="1484.7" y="759.4" width="36.6" height="4.5" fill="#0000fa"/>
<rect x="1582.5" y="565.0" width="4.1" height="4.5" fill="#0000fa"/>
<rect x="1578.4" y="569.1" width="12.2" height="4.5" fill="#0000fa"/>
<rect x="1578.4" y="573.1" width="12.2" height="4.5" fill="#0000fa"/>
<rect x="1574.3" y="577.2" width="20.3" height="4.5" fill="#0000fa"/>
<rect x="1570.3" y="581.2" width="28.4" height="4.5" fill="#0000fa"/>
<rect x="1570.3" y="585.3" width="28.4" height="4.5" fill="#0000fa"/>
<rect x="1566.2" y="589.4" width="36.6" height="4.5" fill="#0000fa"/>
<rect x="1566.2" y="593.4" width="36.6" height="4.5" fill="#0000fa"/>
<rect x="1630.0" y="436.0" width="4.1" height="4.5" fill="#0000fa"/>
<rect x="1625.9" y="440.1" width="12.2" height="4.5" fill="#0000fa"/>
<rect x="1625.9" y="444.1" width="12.2" height="4.5" fill="#0000fa"/>
<rect x="1621.8" y="448.2" width="20.3" height="4.5" fill="#0000fa"/>
<rect x="1617.8" y="452.2" width="28.4" height="4.5" fill="#0000fa"/>
<rect x="1617.8" y="456.3" width="28.4" height="4.5" fill="#0000fa"/>
<rect x="1613.7" y="460.4" width="36.6" height="4.5" fill="#0000fa"/>
<rect x="1613.7" y="464.4" width="36.6" height="4.5" fill="#0000fa"/>
<rect x="1675.0" y="363.0" width="4.1" height="4.5" fill="#0000fa"/>
<rect x="1670.9" y="367.1" width="12.2" height="4.5" fill="#0000fa"/>
<rect x="1670.9" y="371.1" width="12.2" height="4.5" fill="#0000fa"/>
<rect x="1666.8" y="375.2" width="20.3" height="4.5" fill="#0000fa"/>
<rect x="1662.8" y="379.2" width="28.4" height="4.5" fill="#0000fa"/>
<rect x="1662.8" y="383.3" width="28.4" height="4.5" fill="#0000fa"/>
<rect x="1658.7" y="387.4" width="36.6" height="4.5" fill="#0000fa"/>
<rect x="1658.7" y="391.4" width="36.6" height="4.5" fill="#0000fa"/>
<rect x="1757.8" y="170.0" width="4.1" height="4.5" fill="#0000fa"/>
<rect x="1753.7" y="174.1" width="12.2" height="4.5" fill="#0000fa"/>
<rect x="1753.7" y="178.1" width="12.2" height="4.5" fill="#0000fa"/>
<rect x="1749.6" y="182.2" width="20.3" height="4.5" fill="#0000fa"/>
<rect x="1745.6" y="186.2" width="28.4" height="4.5" fill="#0000fa"/>
<rect x="1745.6" y="190.3" width="28.4" height="4.5" fill="#0000fa"/>
<rect x="1741.5" y="194.4" width="36.6" height="4.5" fill="#0000fa"/>
<rect x="1741.5" y="198.4" width="36.6" height="4.5" fill="#0000fa"/>
</g>
<g id="legend" shape-rendering="crispEdges">
<rect x="649.7" y="355.3" width="105.3" height="8.1" fill="#000"/>
<rect x="686.1" y="342.8" width="28.4" height="28.4" fill="#000"/>
<rect x="647.75" y="333.05" width="109.2" height="56.5" fill="none" stroke="#fa0000" stroke-width="4.1"/>
<rect x="645.7" y="355.3" width="4.1" height="8.1" fill="#00f0f0"/>
<rect x="755.0" y="355.3" width="4.0" height="8.1" fill="#00f0f0"/>
<rect x="645.7" y="419.6" width="113.3" height="4.1" fill="#fa0000"/>
<rect x="649.8" y="415.6" width="109.2" height="4.2" fill="#fa0000"/>
<rect x="694.3" y="403.8" width="8.1" height="4.5" fill="#fa0000"/>
<rect x="686.2" y="407.9" width="24.4" height="4.5" fill="#fa0000"/>
<rect x="686.2" y="411.9" width="24.4" height="4.5" fill="#fa0000"/>
<rect x="686.2" y="416.0" width="24.4" height="4.5" fill="#fa0000"/>
<rect x="686.2" y="420.0" width="24.4" height="4.5" fill="#fa0000"/>
<rect x="686.2" y="424.1" width="24.4" height="4.5" fill="#fa0000"/>
<rect x="686.2" y="428.2" width="24.4" height="4.5" fill="#fa0000"/>
<rect x="694.3" y="432.2" width="8.1" height="4.5" fill="#fa0000"/>
<rect x="645.7" y="480.0" width="113.3" height="4.3" fill="#0000fa"/>
<rect x="649.8" y="476.0" width="109.2" height="4.2" fill="#0000fa"/>
<rect x="698.3" y="456.1" width="4.1" height="4.5" fill="#0000fa"/>
<rect x="694.2" y="460.2" width="12.2" height="4.5" fill="#0000fa"/>
<rect x="694.2" y="464.2" width="12.2" height="4.5" fill="#0000fa"/>
<rect x="690.1" y="468.3" width="20.3" height="4.5" fill="#0000fa"/>
<rect x="686.1" y="472.3" width="24.4" height="4.5" fill="#0000fa"/>
<rect x="686.1" y="476.4" width="28.4" height="4.5" fill="#0000fa"/>
<rect x="686.1" y="480.5" width="28.4" height="4.5" fill="#0000fa"/>
<rect x="682.0" y="484.5" width="36.6" height="4.5" fill="#0000fa"/>
<rect x="677.9" y="488.6" width="44.7" height="4.5" fill="#0000fa"/>
</g>
<defs><filter id="ct" x="-2%" y="-2%" width="104%" height="104%" color-interpolation-filters="sRGB"><feOffset in="SourceAlpha" dx="-2.4" result="l"/><feFlood flood-color="#ffb866" flood-opacity="0.85" result="lc"/><feComposite in="lc" in2="l" operator="in" result="L"/><feOffset in="SourceAlpha" dx="2.4" result="r"/><feFlood flood-color="#66c2ff" flood-opacity="0.85" result="rc"/><feComposite in="rc" in2="r" operator="in" result="R"/><feMerge><feMergeNode in="L"/><feMergeNode in="R"/><feMergeNode in="SourceGraphic"/></feMerge></filter></defs>
<g id="labels" filter="url(#ct)">
<text x="118.2 145.1 173.4" y="141.3" font-size="45">100</text>
<text x="145.1 173.4" y="367.4" font-size="45">80</text>
<text x="145.1 173.4" y="589.3" font-size="45">60</text>
<text x="145.1 173.4" y="811.2" font-size="45">40</text>
<text x="145.1 173.4" y="1037.8" font-size="45">20</text>
<text x="173.4" y="1259.4" font-size="45">0</text>
<text x="346.9 375.6 389.4 415.5 444.0" y="1437.0" font-size="45">0.125</text>
<text x="536.3 565.3 576.7 605.4" y="1437.0" font-size="45">0.25</text>
<text x="721.5 751.8 767.0" y="1437.0" font-size="45">0.5</text>
<text x="921.0" y="1437.0" font-size="45">1</text>
<text x="1093.8" y="1437.0" font-size="45">2</text>
<text x="1267.3" y="1437.0" font-size="45">4</text>
<text x="1444.0" y="1437.0" font-size="45">8</text>
<text x="1605.8 1630.3" y="1437.0" font-size="45">16</text>
<text x="1779.3 1803.5" y="1437.0" font-size="45">32</text>
<text x="1952.8 1981.0" y="1437.0" font-size="45">64</text>
<text x="764.8 800.9 844.6 874.8 912.9 928.5 956.7" y="375.1" font-size="45">HMAC-16</text>
<text x="764.8 800.9 844.6 874.8 912.9 928.5 956.7" y="436.0" font-size="45">HMAC-20</text>
<text x="767.5 798.8 835.8 851.5 880.1" y="496.0" font-size="45">AC-25</text>
<text x="899.5" y="1534" font-size="63" textLength="423" lengthAdjust="spacing">sieve size (mm)</text>
<text transform="translate(72.5,992.5) rotate(-90)" x="0" y="0" font-size="63" textLength="532" lengthAdjust="spacing">percent passing (%)</text>
</g>
</svg>
</body>
</html>
